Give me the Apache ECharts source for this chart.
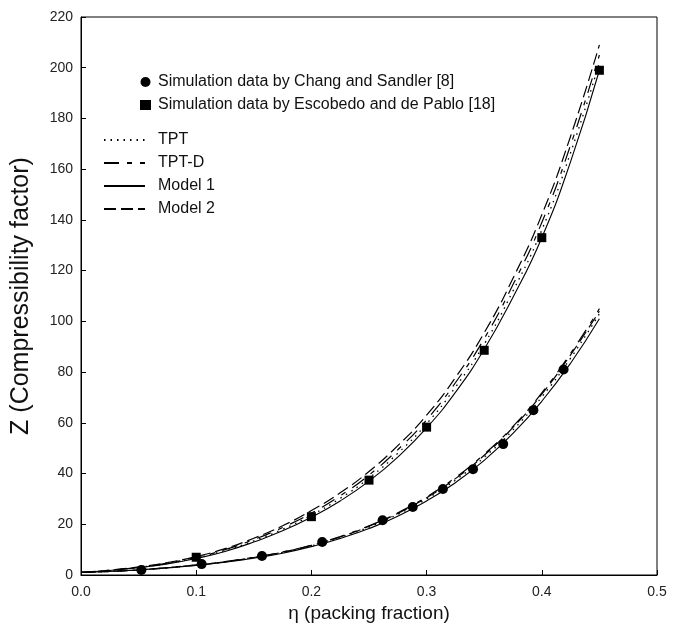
<!DOCTYPE html>
<html>
<head>
<meta charset="utf-8">
<script src="https://cdn.jsdelivr.net/npm/echarts@6/dist/echarts.min.js"></script>
<style>html,body{margin:0;padding:0;background:#fff}#c{width:674px;height:631px}</style>
</head>
<body>
<div id="c"></div>
<script>
// ---- data ----
var etaGrid = [0, 0.025, 0.05, 0.075, 0.1, 0.125, 0.15, 0.175, 0.2, 0.225, 0.25, 0.275, 0.3, 0.325, 0.35, 0.375, 0.4, 0.425, 0.45];

// upper family (Escobedo and de Pablo system)
var upperTPT    = [1, 1.8, 3.0, 4.6, 6.8, 9.7, 13.5, 18.0, 23.6, 30.2, 38.2, 48.0, 59.6, 74.0, 91.0, 112.0, 136.0, 166.5, 202];
var upperTPTD   = [1, 1.85, 3.1, 4.7, 7.0, 10.0, 14.0, 18.7, 24.4, 31.2, 39.4, 49.4, 61.2, 75.8, 93.2, 114.5, 139.0, 169.5, 205];
var upperModel1 = [1, 1.8, 2.9, 4.4, 6.5, 9.3, 13.0, 17.4, 22.8, 29.2, 37.0, 46.5, 58.0, 72.0, 89.0, 109.5, 133.0, 163.0, 199];
var upperModel2 = [1, 1.9, 3.2, 4.9, 7.3, 10.4, 14.5, 19.4, 25.4, 32.4, 40.8, 51.0, 63.0, 77.8, 95.5, 117.0, 142.0, 173.0, 209];

// lower family (Chang and Sandler system)
var lowerTPT    = [1, 1.4, 2.0, 2.8, 3.9, 5.2, 6.8, 8.9, 11.5, 14.8, 18.9, 23.9, 30.0, 37.4, 46.4, 57.2, 70.2, 85.5, 103];
var lowerTPTD   = [1, 1.4, 2.05, 2.9, 4.0, 5.3, 7.0, 9.1, 11.8, 15.2, 19.4, 24.5, 30.8, 38.4, 47.6, 58.6, 71.8, 87.4, 105];
var lowerModel1 = [1, 1.4, 2.0, 2.8, 3.8, 5.0, 6.6, 8.6, 11.2, 14.4, 18.3, 23.2, 29.2, 36.4, 45.2, 55.8, 68.5, 83.5, 101];
var lowerModel2 = [1, 1.4, 2.0, 2.85, 3.9, 5.2, 6.9, 9.0, 11.7, 15.0, 19.2, 24.3, 30.5, 38.0, 47.2, 58.2, 71.3, 86.8, 104];

// simulation points
var changEta = [0.0524, 0.1047, 0.1571, 0.2094, 0.2618, 0.2880, 0.3142, 0.3403, 0.3665, 0.3927, 0.4189];
var changZ   = [2.0, 4.3, 7.5, 13.0, 21.6, 26.8, 33.9, 41.7, 51.6, 65.0, 81.0];
var escEta   = [0.10, 0.20, 0.25, 0.30, 0.35, 0.40, 0.45];
var escZ     = [7.0, 23.0, 37.4, 58.3, 88.6, 133.0, 199.0];

var xTicks = [0, 0.1, 0.2, 0.3, 0.4, 0.5];
var yTicks = [0, 20, 40, 60, 80, 100, 120, 140, 160, 180, 200, 220];

var nameChang = 'Simulation data by Chang and Sandler [8]';
var nameEsc = 'Simulation data by Escobedo and de Pablo [18]';
var nameTPT = 'TPT', nameTPTD = 'TPT-D', nameM1 = 'Model 1', nameM2 = 'Model 2';

function pairs(xs, ys) { return xs.map(function (x, i) { return [x, ys[i]]; }); }

var FONT = 'Liberation Sans, Arial, sans-serif';
var styles = {};
styles[nameTPT]  = { type: [1.5, 5], width: 1.3 };
styles[nameTPTD] = { type: [15, 8, 5, 8], width: 1.2 };
styles[nameM1]   = { type: 'solid', width: 1.1 };
styles[nameM2]   = { type: [12, 5], width: 1.2 };

function lineSeries(name, ys) {
  var s = styles[name];
  return {
    name: name, type: 'line', smooth: true, symbol: 'none', showSymbol: false,
    data: pairs(etaGrid, ys),
    lineStyle: { color: '#000', width: s.width, type: s.type },
    itemStyle: { color: '#000' },
    z: 2
  };
}

var series = [
  lineSeries(nameTPT, upperTPT), lineSeries(nameTPT, lowerTPT),
  lineSeries(nameTPTD, upperTPTD), lineSeries(nameTPTD, lowerTPTD),
  lineSeries(nameM1, upperModel1), lineSeries(nameM1, lowerModel1),
  lineSeries(nameM2, upperModel2), lineSeries(nameM2, lowerModel2),
  { name: nameChang, type: 'scatter', symbol: 'circle', symbolSize: 10,
    data: pairs(changEta, changZ), itemStyle: { color: '#000', opacity: 1 }, z: 5 },
  { name: nameEsc, type: 'scatter', symbol: 'rect', symbolSize: 9,
    data: pairs(escEta, escZ), itemStyle: { color: '#000', opacity: 1 }, z: 5 }
];

var chart = echarts.init(document.getElementById('c'), null, { renderer: 'canvas' });
chart.setOption({
  animation: false,
  backgroundColor: '#fff',
  grid: { left: 81, right: 17, top: 17, bottom: 56, show: true, borderColor: '#000', borderWidth: 1 },
  legend: [
    { data: [nameChang, nameEsc], orient: 'vertical', left: 135, top: 69,
      itemWidth: 11, itemHeight: 10, itemGap: 7,
      itemStyle: { opacity: 1 },
      textStyle: { fontFamily: FONT, fontSize: 16, color: '#111', padding: [0, 0, 0, 2] } },
    { data: [nameTPT, nameTPTD, nameM1, nameM2], orient: 'vertical', left: 98, top: 127,
      itemWidth: 41, itemHeight: 12, itemGap: 7,
      itemStyle: { opacity: 0, color: 'rgba(0,0,0,0)', borderWidth: 0 },
      textStyle: { fontFamily: FONT, fontSize: 16, color: '#111', padding: [0, 0, 0, 8] } }
  ],
  xAxis: {
    type: 'value', min: 0, max: 0.5, interval: 0.1,
    name: 'η (packing fraction)', nameLocation: 'middle', nameGap: 24,
    nameTextStyle: { fontFamily: FONT, fontSize: 19, color: '#111' },
    axisLine: { lineStyle: { color: '#000' } },
    axisTick: { inside: true, length: 5, lineStyle: { color: '#000' } },
    axisLabel: { fontFamily: FONT, fontSize: 14, color: '#222', margin: 10,
      formatter: function (v) { return xTicks.indexOf(Math.round(v * 10) / 10) >= 0 ? v.toFixed(1) : ''; } },
    splitLine: { show: false }
  },
  yAxis: {
    type: 'value', min: 0, max: 220, interval: 20,
    name: 'Z (Compressibility factor)', nameLocation: 'middle', nameGap: 47,
    nameTextStyle: { fontFamily: FONT, fontSize: 25, color: '#111' },
    axisLine: { lineStyle: { color: '#000' } },
    axisTick: { inside: true, length: 5, lineStyle: { color: '#000' } },
    axisLabel: { fontFamily: FONT, fontSize: 14, color: '#222', margin: 8,
      formatter: function (v) { return yTicks.indexOf(v) >= 0 ? String(v) : ''; } },
    splitLine: { show: false }
  },
  series: series
});
</script>
</body>
</html>
